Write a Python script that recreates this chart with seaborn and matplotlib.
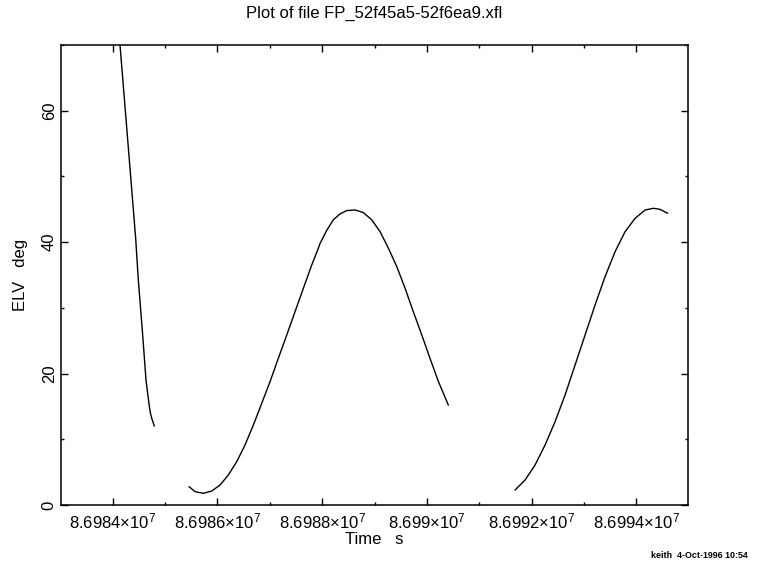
import numpy as np
import pandas as pd
import matplotlib
matplotlib.use("Agg")
import matplotlib.pyplot as plt
from matplotlib.ticker import FixedLocator, MultipleLocator
import seaborn as sns

# ---- data ----
seg1_t = [86984120, 86984139, 86984300, 86984439, 86984489, 86984565,
          86984636, 86984670, 86984699, 86984720, 86984745, 86984795]
seg1_v = [72.0, 70.0, 54.2, 40.5, 34.2, 26.6, 19.0, 16.8, 15.0, 14.0,
          13.2, 12.0]

seg2_t = [86985458, 86985572, 86985731, 86985891, 86986050, 86986208,
          86986369, 86986527, 86986686, 86986846, 86987005, 86987163,
          86987324, 86987482, 86987641, 86987801, 86987927, 86987960,
          86988088, 86988214, 86988342, 86988470, 86988628, 86988787,
          86988947, 86989106, 86989264, 86989425, 86989583, 86989742,
          86989902, 86990061, 86990220, 86990411]
seg2_v = [2.79, 2.03, 1.78, 2.13, 3.04, 4.57, 6.60, 9.13, 12.17, 15.47,
          18.77, 22.32, 25.87, 29.42, 32.97, 36.52, 39.06, 39.8, 41.8,
          43.4, 44.3, 44.8, 44.9, 44.5, 43.4, 41.6, 39.1, 36.3, 33.0,
          29.4, 25.9, 22.3, 18.8, 15.2]

seg3_t = [86991685, 86991876, 86992067, 86992258, 86992449, 86992640,
          86992831, 86993022, 86993213, 86993404, 86993595, 86993786,
          86993977, 86994168, 86994327, 86994454, 86994601]
seg3_v = [2.28, 3.80, 6.09, 9.13, 12.68, 16.74, 21.30, 25.87, 30.43,
          34.75, 38.55, 41.59, 43.62, 44.89, 45.15, 44.99, 44.38]

x_ticks = [86984000, 86986000, 86988000, 86990000, 86992000, 86994000]
x_ticklabels = ["8.6984\u00d710$^{7}$", "8.6986\u00d710$^{7}$",
                "8.6988\u00d710$^{7}$", "8.699\u00d710$^{7}$",
                "8.6992\u00d710$^{7}$", "8.6994\u00d710$^{7}$"]
y_ticks = [0, 20, 40, 60]
y_ticklabels = ["0", "20", "40", "60"]

title = "Plot of file FP_52f45a5-52f6ea9.xfl"
x_label = "Time   s"
y_label = "ELV   deg"
footer = "keith  4-Oct-1996 10:54"

df = pd.concat([
    pd.DataFrame({"t": seg1_t, "elv": seg1_v, "seg": 1}),
    pd.DataFrame({"t": seg2_t, "elv": seg2_v, "seg": 2}),
    pd.DataFrame({"t": seg3_t, "elv": seg3_v, "seg": 3}),
])

sns.set_theme(style="white")
plt.rcParams["font.family"] = ["Liberation Sans", "DejaVu Sans"]
plt.rcParams["mathtext.fontset"] = "custom"
plt.rcParams["mathtext.rm"] = "Liberation Sans"
plt.rcParams["mathtext.it"] = "Liberation Sans"
plt.rcParams["mathtext.bf"] = "Liberation Sans:bold"

fig = plt.figure(figsize=(7.68, 5.69), dpi=100)
ax = fig.add_axes([61 / 768, 1 - 505 / 569, 627 / 768, 460 / 569])

sns.lineplot(data=df, x="t", y="elv", units="seg", estimator=None,
             color="black", linewidth=1.0, ax=ax, legend=False, sort=False)

ax.set_xlim(86983012, 86994988)
ax.set_ylim(0, 70)

ax.xaxis.set_major_locator(FixedLocator(x_ticks))
ax.set_xticklabels(x_ticklabels)
ax.xaxis.set_minor_locator(MultipleLocator(1000))
ax.yaxis.set_major_locator(FixedLocator(y_ticks))
ax.set_yticklabels(y_ticklabels, rotation=90, va="center")
ax.yaxis.set_minor_locator(MultipleLocator(10))

ax.tick_params(axis="both", which="both", direction="in", top=True,
               right=True, bottom=True, left=True, color="black",
               labelcolor="black", labelsize=12)
ax.tick_params(axis="both", which="major", length=5, width=1.0)
ax.tick_params(axis="both", which="minor", length=2.5, width=1.0)
ax.tick_params(axis="x", which="major", pad=5)
ax.tick_params(axis="y", which="major", pad=3)

for s in ax.spines.values():
    s.set_color("black")
    s.set_linewidth(1.1)
    s.set_visible(True)

ax.set_xlabel(x_label, fontsize=12, color="black", labelpad=0)
ax.set_ylabel(y_label, fontsize=12, color="black", labelpad=10)
fig.text(374.5 / 768, 1 - 13 / 569, title, ha="center", va="center",
         fontsize=12, color="black")
fig.text(748 / 768, 1 - 555 / 569, footer, ha="right", va="center",
         fontsize=6.4, fontweight="bold", color="black")

fig.savefig("out.png", dpi=100, facecolor="white")
